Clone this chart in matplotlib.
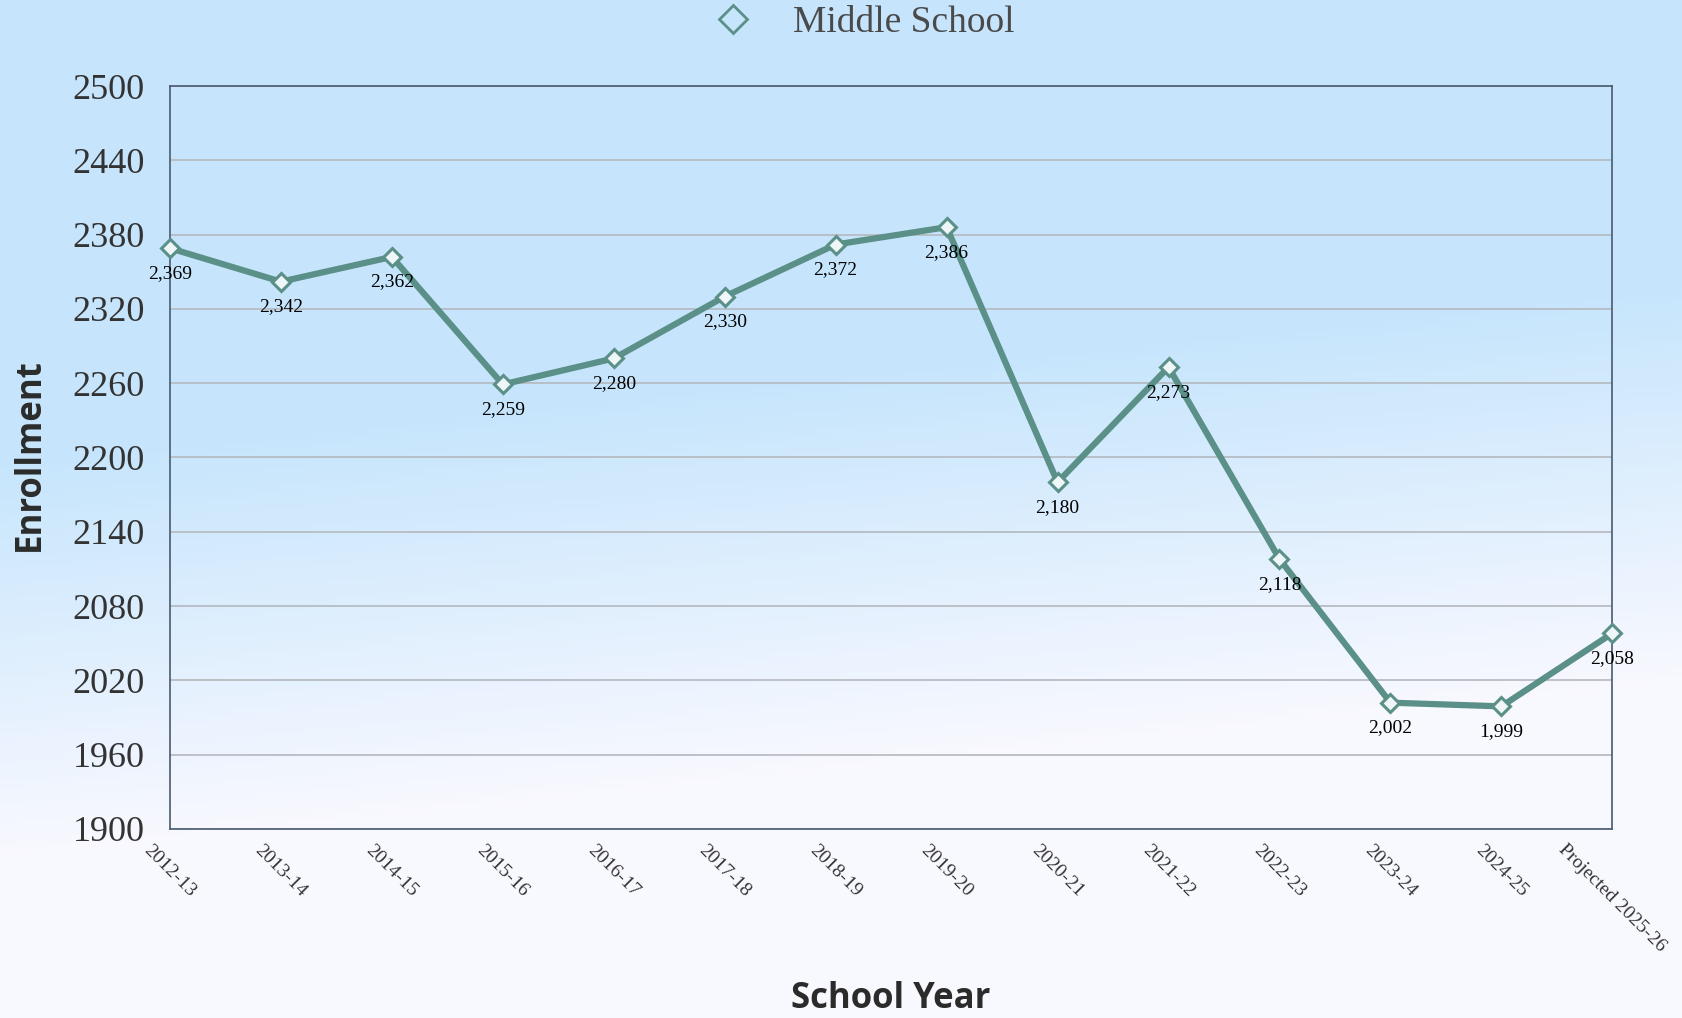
import numpy as np
import matplotlib.pyplot as plt
from matplotlib.lines import Line2D

# Data
years = ['2012-13', '2013-14', '2014-15', '2015-16', '2016-17', '2017-18',
         '2018-19', '2019-20', '2020-21', '2021-22', '2022-23', '2023-24',
         '2024-25', 'Projected 2025-26']
enrollment = [2369, 2342, 2362, 2259, 2280, 2330, 2372, 2386, 2180, 2273,
              2118, 2002, 1999, 2058]
y_ticks = [1900, 1960, 2020, 2080, 2140, 2200, 2260, 2320, 2380, 2440, 2500]

line_color = '#5b9088'
serif = ['Liberation Serif', 'DejaVu Serif']
bold_sans = ['Open Sans', 'DejaVu Sans']

fig = plt.figure(figsize=(16.83, 10.18), dpi=100)

# soft blue-to-white background
bg = fig.add_axes([0, 0, 1, 1], zorder=-10)
yy, xx = np.mgrid[0:1:200j, 0:1:300j]
t = np.clip((yy - 0.42) * 2.6 + xx * 0.45 - 0.1, 0, 1)
top = np.array([0.78, 0.90, 0.99])
bot = np.array([0.975, 0.975, 1.0])
img = top[None, None, :] * (1 - t[..., None]) + bot[None, None, :] * t[..., None]
bg.imshow(img, aspect='auto', extent=[0, 1, 0, 1], origin='upper')
bg.axis('off')

ax = fig.add_axes([0.101, 0.1857, 0.857, 0.7298])
ax.patch.set_alpha(0)

x = np.arange(len(years))
ax.plot(x, enrollment, color=line_color, lw=4.5, marker='D', ms=9,
        markerfacecolor='#eef6f8', markeredgecolor=line_color, mew=2.2,
        zorder=3, clip_on=False)

for xi, v in zip(x, enrollment):
    ax.annotate(f'{v:,}', (xi, v), xytext=(0, -12), textcoords='offset points',
                ha='center', va='top', fontsize=14, family=serif, color='black')

ax.set_xlim(0, len(years) - 1)
ax.set_ylim(1900, 2500)
ax.set_yticks(y_ticks)
ax.set_yticklabels([str(v) for v in y_ticks], fontsize=26, family=serif, color='#333333')
ax.set_xticks(x)
ax.set_xticklabels(years, rotation=-45, ha='center', va='top',
                   fontsize=14, family=serif, color='#333333')
ax.tick_params(axis='y', length=0, pad=18)
ax.tick_params(axis='x', length=0, pad=9)

ax.grid(axis='y', color='#b4b8be', lw=1.2)
ax.set_axisbelow(True)
for s in ax.spines.values():
    s.set_color('#4a5a70')
    s.set_linewidth(1.2)

fig.text(0.018, 0.553, 'Enrollment', fontsize=25, fontweight='bold', color='#2b2b2b',
         family=bold_sans, rotation=90, ha='center', va='center')
fig.text(0.529, 0.019, 'School Year', fontsize=25, fontweight='bold', color='#2b2b2b',
         family=bold_sans, ha='center', va='center')

handle = Line2D([], [], color=line_color, marker='D', ls='none', ms=14,
                markerfacecolor='none', markeredgecolor=line_color, mew=2)
fig.legend([handle], ['Middle School'], loc='center', bbox_to_anchor=(0.508, 0.978),
           frameon=False, prop={'family': serif, 'size': 27}, labelcolor='#4a4a4a',
           handletextpad=0.6)

fig.savefig('out.png', dpi=100)
plt.close(fig)
